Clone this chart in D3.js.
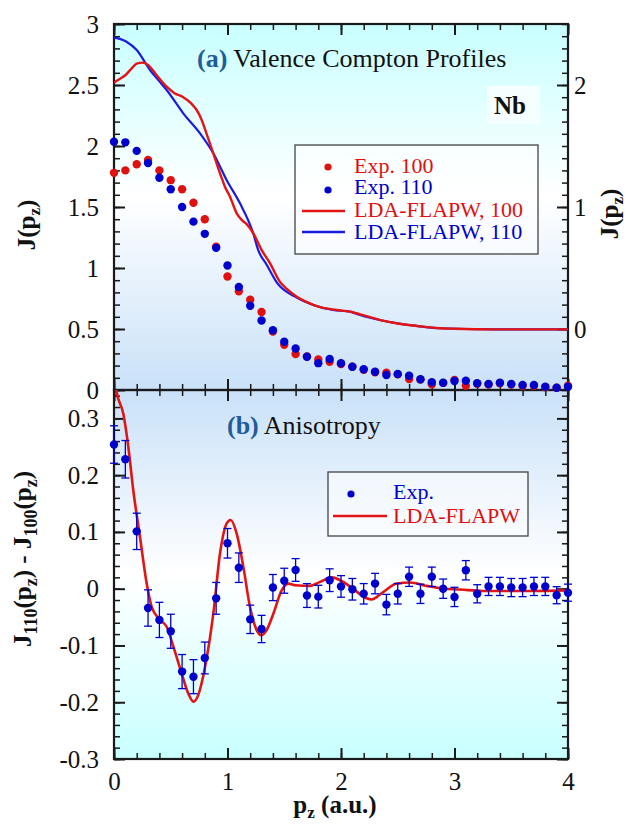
<!DOCTYPE html>
<html>
<head>
<meta charset="utf-8">
<script src="https://cdn.jsdelivr.net/npm/d3@7"></script>
<style>
  body { margin: 0; background: #fff; }
  svg text { font-family: "Liberation Serif", "Times New Roman", serif; }
</style>
</head>
<body>
<svg id="chart" width="628" height="825"></svg>
<script>
// ---- data ----
var pzExp = [0,0.1,0.2,0.3,0.4,0.5,0.6,0.7,0.8,0.9,1.0,1.1,1.2,1.3,1.4,1.5,1.6,1.7,1.8,1.9,2.0,
             2.1,2.2,2.3,2.4,2.5,2.6,2.7,2.8,2.9,3.0,3.1,3.2,3.3,3.4,3.5,3.6,3.7,3.8,3.9,4.0];
var exp100 = [1.78,1.80,1.85,1.885,1.80,1.72,1.645,1.535,1.40,1.175,0.93,0.81,0.74,0.64,0.48,0.37,0.295,0.275,0.25,0.232,0.212,
              0.19,0.165,0.145,0.142,0.128,0.09,0.085,0.047,0.058,0.082,0.035,0.052,0.045,0.055,0.045,0.035,0.035,0.022,0.018,0.035];
var exp110 = [2.035,2.03,1.96,1.86,1.74,1.645,1.50,1.38,1.28,1.165,1.02,0.845,0.69,0.57,0.49,0.395,0.34,0.272,0.22,0.254,0.219,
              0.19,0.17,0.15,0.123,0.131,0.117,0.088,0.063,0.06,0.074,0.076,0.055,0.049,0.06,0.049,0.041,0.041,0.027,0.019,0.027];

// LDA-FLAPW profiles (right axis units)
var ldaPz100 = [0,0.05,0.1,0.15,0.2,0.25,0.3,0.376,0.464,0.53,0.61,0.68,0.728,0.77,0.816,0.875,0.934,0.98,1.022,1.081,1.13,1.169,
                1.23,1.30,1.374,1.463,1.52,1.61,1.70,1.80,1.96,2.08,2.17,2.37,2.5,2.67,2.87,3.0,3.34,4.0];
var lda100   = [2.02,2.05,2.08,2.13,2.175,2.183,2.165,2.08,1.986,1.935,1.90,1.85,1.795,1.72,1.60,1.44,1.276,1.16,1.085,0.948,0.89,0.86,
                0.78,0.648,0.54,0.385,0.33,0.265,0.22,0.183,0.156,0.142,0.12,0.068,0.045,0.025,0.006,0.002,-0.003,-0.003];
var ldaPz110 = [0,0.11,0.2,0.317,0.4,0.464,0.61,0.758,0.875,0.993,1.11,1.227,1.27,1.345,1.44,1.595,1.756,1.93,2.08,2.167,2.37,
                2.667,2.87,3.34,4.0];
var lda110   = [2.388,2.355,2.287,2.123,2.03,1.959,1.768,1.604,1.44,1.22,1.03,0.784,0.648,0.527,0.374,0.265,0.197,0.156,0.142,0.115,0.068,
                0.025,0.006,-0.003,-0.003];

// anisotropy J110 - J100
var aniso    = [0.254,0.228,0.101,-0.034,-0.055,-0.075,-0.146,-0.155,-0.122,-0.017,0.080,0.037,-0.054,-0.071,0.002,0.014,0.033,-0.012,-0.014,0.015,0.004,
                -0.001,-0.009,0.009,-0.028,-0.009,0.021,-0.009,0.021,0.0,-0.0145,0.0325,-0.009,0.004,0.004,0.002,0.002,0.004,0.004,-0.0115,-0.007];
var anisoErr = [0.033,0.033,0.032,0.032,0.031,0.030,0.030,0.030,0.028,0.028,0.026,0.026,0.025,0.024,0.023,0.022,0.020,0.021,0.020,0.020,0.019,
                0.019,0.018,0.018,0.018,0.018,0.017,0.017,0.017,0.017,0.017,0.017,0.016,0.016,0.016,0.016,0.016,0.016,0.016,0.015,0.015];
var anisoLdaPz = [0,0.023,0.082,0.126,0.17,0.229,0.288,0.332,0.405,0.464,0.523,0.596,0.655,0.70,0.743,0.802,0.875,0.934,0.993,1.028,1.081,
                  1.14,1.198,1.257,1.30,1.345,1.404,1.477,1.536,1.60,1.727,1.815,1.918,2.02,2.123,2.226,2.27,2.372,2.49,2.608,2.754,
                  2.90,3.048,3.25,3.69,4.0];
var anisoLda   = [0.38,0.347,0.308,0.25,0.173,0.091,0.009,-0.032,-0.055,-0.067,-0.102,-0.149,-0.185,-0.199,-0.187,-0.138,-0.044,0.062,0.115,0.121,0.097,
                  0.038,-0.032,-0.073,-0.082,-0.073,-0.044,-0.003,0.009,0.006,0.005,0.012,0.02,0.012,-0.003,-0.017,-0.019,-0.006,0.009,0.011,0.005,
                  0.0,-0.0015,-0.004,-0.004,-0.003];

// tick labels
var xTicks = [0,1,2,3,4];
var topLeftTicks = [0,0.5,1,1.5,2,2.5,3];
var topRightTicks = [0,1,2];
var botTicks = [-0.3,-0.2,-0.1,0,0.1,0.2,0.3];

// ---- layout ----
var X0 = 114, X1 = 568, TOP = 24, MID = 390, BOT = 759;
var RED = "#e01010", BLUE = "#0000cc", LRED = "#e41414", LBLUE = "#1a1ae0";
var TICKFONT = 25;
var svg = d3.select("#chart");

var x = d3.scaleLinear().domain([0,4]).range([X0,X1]);
var yTop = d3.scaleLinear().domain([0,3]).range([MID,TOP]);
var yRight = d3.scaleLinear().domain([-0.5,2.5]).range([MID,TOP]);
var yBot = d3.scaleLinear().domain([-0.3,0.35]).range([BOT,MID]);

var defs = svg.append("defs");
function grad(id, stops) {
  var g = defs.append("linearGradient").attr("id",id).attr("x1",0).attr("y1",0).attr("x2",0).attr("y2",1);
  stops.forEach(function(s){ g.append("stop").attr("offset",s[0]).attr("stop-color",s[1]); });
}
grad("bgTop", [[0,"#c8ffff"],[0.47,"#ffffff"],[1,"#c9e1f8"]]);
grad("bgBot", [[0,"#c9e1f8"],[0.5,"#ffffff"],[1,"#c8ffff"]]);
defs.append("clipPath").attr("id","clipTop").append("rect")
  .attr("x",X0).attr("y",TOP).attr("width",X1-X0).attr("height",MID-TOP);
defs.append("clipPath").attr("id","clipBot").append("rect")
  .attr("x",X0).attr("y",MID).attr("width",X1-X0).attr("height",BOT-MID);

svg.append("rect").attr("x",X0).attr("y",TOP).attr("width",X1-X0).attr("height",MID-TOP).attr("fill","url(#bgTop)");
svg.append("rect").attr("x",X0).attr("y",MID).attr("width",X1-X0).attr("height",BOT-MID).attr("fill","url(#bgBot)");

// ---- axes ----
function fmt(d) { return d3.format("")(d).replace("\u2212","-"); }
function drawAxis(gen, pos, vals, size, labels, sw) {
  var g = svg.append("g").attr("transform", pos);
  gen.tickValues(vals).tickSize(size).tickPadding(labels ? labels.pad : 3)
     .tickFormat(labels ? fmt : "");
  g.call(gen);
  g.select(".domain").remove();
  g.selectAll("line").attr("stroke","#1a1a1a").attr("stroke-width",sw);
  g.selectAll("text").attr("font-family","Liberation Serif, serif").attr("font-size",TICKFONT).attr("fill","#111");
  return g;
}
function minor(lo, hi, step) { return d3.range(Math.round((hi-lo)/step)+1).map(function(i){ return +(lo+i*step).toFixed(4); }); }

// top panel
drawAxis(d3.axisLeft(yTop), "translate("+X0+",0)", minor(0,3,0.1), -6, null, 1.5);
drawAxis(d3.axisLeft(yTop), "translate("+X0+",0)", topLeftTicks, -11, {pad:15}, 2);
drawAxis(d3.axisRight(yRight), "translate("+X1+",0)", minor(-0.5,2.5,0.1), -6, null, 1.5);
drawAxis(d3.axisRight(yRight), "translate("+X1+",0)", topRightTicks, -11, {pad:6}, 2);
drawAxis(d3.axisTop(x), "translate(0,"+TOP+")", minor(0,4,0.2), -6, null, 1.5);
drawAxis(d3.axisTop(x), "translate(0,"+TOP+")", xTicks, -11, null, 2);
drawAxis(d3.axisBottom(x), "translate(0,"+MID+")", minor(0,4,0.2), -6, null, 1.5);
drawAxis(d3.axisBottom(x), "translate(0,"+MID+")", xTicks, -11, null, 2);
// bottom panel
drawAxis(d3.axisTop(x), "translate(0,"+MID+")", minor(0,4,0.2), -6, null, 1.5);
drawAxis(d3.axisTop(x), "translate(0,"+MID+")", xTicks, -11, null, 2);
drawAxis(d3.axisBottom(x), "translate(0,"+BOT+")", minor(0,4,0.2), -6, null, 1.5);
drawAxis(d3.axisBottom(x), "translate(0,"+BOT+")", xTicks, -11, {pad:13}, 2);
drawAxis(d3.axisLeft(yBot), "translate("+X0+",0)", minor(-0.3,0.34,0.02), -6, null, 1.5);
drawAxis(d3.axisLeft(yBot), "translate("+X0+",0)", botTicks, -11, {pad:15}, 2);
drawAxis(d3.axisRight(yBot), "translate("+X1+",0)", minor(-0.3,0.34,0.02), -6, null, 1.5);
drawAxis(d3.axisRight(yBot), "translate("+X1+",0)", botTicks, -11, null, 2);

svg.append("rect").attr("x",X0).attr("y",TOP).attr("width",X1-X0).attr("height",MID-TOP)
  .attr("fill","none").attr("stroke","#1a1a1a").attr("stroke-width",2.2);
svg.append("rect").attr("x",X0).attr("y",MID).attr("width",X1-X0).attr("height",BOT-MID)
  .attr("fill","none").attr("stroke","#1a1a1a").attr("stroke-width",2.2);

// ---- top panel data ----
var lineR = d3.line().x(function(d){ return x(d[0]); }).y(function(d){ return yRight(d[1]); }).curve(d3.curveMonotoneX);
var gTopL = svg.append("g").attr("clip-path","url(#clipTop)");
gTopL.append("path").datum(d3.zip(ldaPz110, lda110)).attr("d",lineR)
  .attr("fill","none").attr("stroke",LBLUE).attr("stroke-width",2.2);
gTopL.append("path").datum(d3.zip(ldaPz100, lda100)).attr("d",lineR)
  .attr("fill","none").attr("stroke",LRED).attr("stroke-width",2.4);

svg.append("g").selectAll("circle").data(d3.zip(pzExp, exp100)).join("circle")
  .attr("cx",function(d){ return x(d[0]); }).attr("cy",function(d){ return yTop(d[1]); })
  .attr("r",4.2).attr("fill",RED);
svg.append("g").selectAll("circle").data(d3.zip(pzExp, exp110)).join("circle")
  .attr("cx",function(d){ return x(d[0]); }).attr("cy",function(d){ return yTop(d[1]); })
  .attr("r",4.2).attr("fill",BLUE);

// ---- bottom panel data ----
var lineB = d3.line().x(function(d){ return x(d[0]); }).y(function(d){ return yBot(d[1]); }).curve(d3.curveMonotoneX);
svg.append("g").attr("clip-path","url(#clipBot)").append("path")
  .datum(d3.zip(anisoLdaPz, anisoLda)).attr("d",lineB)
  .attr("fill","none").attr("stroke",LRED).attr("stroke-width",2.6);

var anisoData = d3.zip(pzExp, aniso, anisoErr);
var eb = svg.append("g").attr("stroke",BLUE).attr("stroke-width",1.3);
anisoData.forEach(function(d){
  var cx = x(d[0]), y1 = yBot(d[1]+d[2]), y2 = yBot(d[1]-d[2]);
  eb.append("line").attr("x1",cx).attr("x2",cx).attr("y1",y1).attr("y2",y2);
  eb.append("line").attr("x1",cx-4).attr("x2",cx+4).attr("y1",y1).attr("y2",y1);
  eb.append("line").attr("x1",cx-4).attr("x2",cx+4).attr("y1",y2).attr("y2",y2);
});
svg.append("g").selectAll("circle").data(anisoData).join("circle")
  .attr("cx",function(d){ return x(d[0]); }).attr("cy",function(d){ return yBot(d[1]); })
  .attr("r",4.2).attr("fill",BLUE);

// ---- text ----
function txt(xp, yp, size, weight, fill) {
  return svg.append("text").attr("x",xp).attr("y",yp).attr("font-size",size)
    .attr("font-weight",weight||"normal").attr("fill",fill||"#111");
}
var ta = txt(197, 67, 26);
ta.append("tspan").attr("font-weight","bold").attr("fill","#1f5c99").text("(a)");
ta.append("tspan").text(" Valence Compton Profiles");
var tb = txt(227, 434, 26);
tb.append("tspan").attr("font-weight","bold").attr("fill","#1f5c99").text("(b)");
tb.append("tspan").text(" Anisotropy");

svg.append("rect").attr("x",487).attr("y",86).attr("width",53).attr("height",38).attr("fill","#f6ffff");
txt(494, 114, 25, "bold").text("Nb");

// legends
svg.append("rect").attr("x",295).attr("y",145).attr("width",243).attr("height",109)
  .attr("fill","#ffffff").attr("fill-opacity",0.55).attr("stroke","#444").attr("stroke-width",1.3);
svg.append("circle").attr("cx",328).attr("cy",167).attr("r",3.6).attr("fill",RED);
svg.append("circle").attr("cx",328).attr("cy",190).attr("r",3.6).attr("fill",BLUE);
svg.append("line").attr("x1",302).attr("x2",345).attr("y1",211).attr("y2",211).attr("stroke",LRED).attr("stroke-width",2.4);
svg.append("line").attr("x1",302).attr("x2",345).attr("y1",232).attr("y2",232).attr("stroke",LBLUE).attr("stroke-width",2.4);
txt(354, 173, 22, null, RED).text("Exp. 100");
txt(354, 194, 22, null, BLUE).text("Exp. 110");
txt(354, 217, 22, null, RED).text("LDA-FLAPW, 100");
txt(354, 239, 22, null, BLUE).text("LDA-FLAPW, 110");

svg.append("rect").attr("x",328).attr("y",472).attr("width",200).attr("height",64)
  .attr("fill","#ffffff").attr("fill-opacity",0.5).attr("stroke","#444").attr("stroke-width",1.3);
svg.append("circle").attr("cx",351).attr("cy",494).attr("r",3.6).attr("fill",BLUE);
svg.append("line").attr("x1",333).attr("x2",387).attr("y1",516).attr("y2",516).attr("stroke",LRED).attr("stroke-width",2.4);
txt(393, 499, 22, null, BLUE).text("Exp.");
txt(393, 523, 22, null, RED).text("LDA-FLAPW");

// axis titles
function jTitle(xp, yp) {
  var t = svg.append("text").attr("transform","translate("+xp+","+yp+") rotate(-90)")
    .attr("text-anchor","middle").attr("font-size",25).attr("font-weight","bold").attr("fill","#111");
  t.append("tspan").text("J(p");
  t.append("tspan").attr("font-size",17).attr("dy",5).text("z");
  t.append("tspan").attr("dy",-5).text(")");
}
jTitle(35, 225);
jTitle(618, 214);

var tl = svg.append("text").attr("transform","translate(31,559) rotate(-90)")
  .attr("text-anchor","middle").attr("font-size",25).attr("font-weight","bold").attr("fill","#111");
tl.append("tspan").text("J");
tl.append("tspan").attr("font-size",18).attr("dy",6).text("110");
tl.append("tspan").attr("dy",-6).text("(p");
tl.append("tspan").attr("font-size",18).attr("dy",6).text("z");
tl.append("tspan").attr("dy",-6).text(") - J");
tl.append("tspan").attr("font-size",18).attr("dy",6).text("100");
tl.append("tspan").attr("dy",-6).text("(p");
tl.append("tspan").attr("font-size",18).attr("dy",6).text("z");
tl.append("tspan").attr("dy",-6).text(")");

var tx = svg.append("text").attr("x",335).attr("y",813).attr("text-anchor","middle")
  .attr("font-size",25).attr("font-weight","bold").attr("fill","#111");
tx.append("tspan").text("p");
tx.append("tspan").attr("font-size",17).attr("dy",5).text("z");
tx.append("tspan").attr("dy",-5).text(" (a.u.)");
</script>
</body>
</html>
